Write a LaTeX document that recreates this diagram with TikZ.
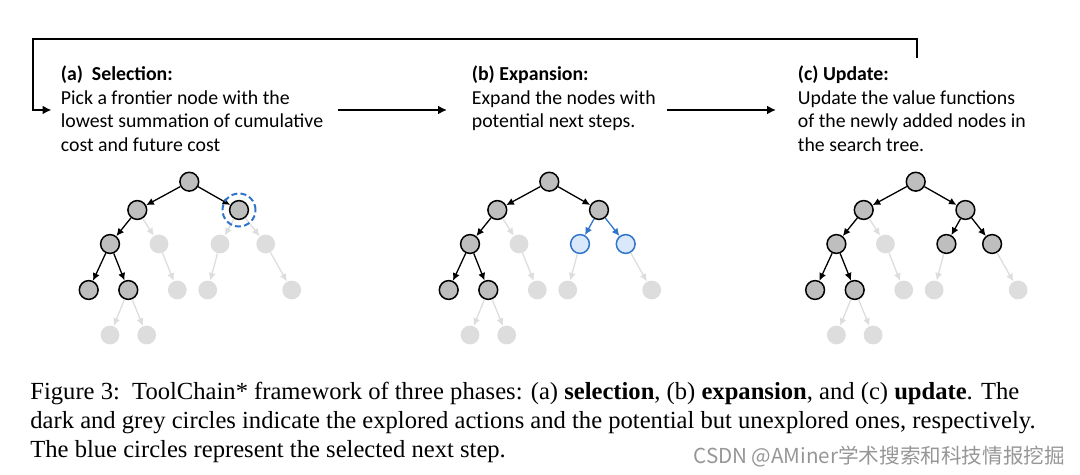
\documentclass[tikz,border=0pt]{standalone}
\usepackage{fontspec}
\setmainfont{Liberation Serif}
\newfontfamily\calib{Carlito}
\newfontfamily\cjk{Noto Sans CJK SC}
\usetikzlibrary{arrows.meta}
\definecolor{exgray}{RGB}{190,190,190}
\definecolor{ungray}{RGB}{221,221,221}
\definecolor{selblue}{RGB}{47,117,204}
\definecolor{lightblue}{RGB}{218,232,252}
\definecolor{markgray}{RGB}{150,150,150}

\begin{document}
\begin{tikzpicture}[x=0.5pt, y=-0.5pt,
		explored/.style={circle, draw=black, fill=exgray, line width=0.75pt, minimum size=9.4pt, inner sep=0pt},
		unexplored/.style={circle, fill=ungray, minimum size=9.4pt, inner sep=0pt},
		chosen/.style={circle, draw=selblue, fill=lightblue, line width=0.75pt, minimum size=9.4pt, inner sep=0pt},
		exploredge/.style={-{Latex[length=3.8pt,width=3.6pt]}, black, line width=0.65pt},
		unexploredge/.style={-{Latex[length=3.8pt,width=3.6pt]}, ungray, line width=0.65pt},
		chosenedge/.style={-{Latex[length=3.8pt,width=3.6pt]}, selblue, line width=0.65pt},
		flow/.style={-{Latex[length=4.5pt,width=4.5pt]}, black, line width=1pt},
		phase/.style={anchor=north west, align=left, inner sep=0pt, font=\calib\fontsize{9.9}{11.8}\selectfont}]
	\useasboundingbox (0,0) rectangle (1080,475);

	\node[phase] (a-text) at (60.5,65.5) {\textbf{(a)\ \ Selection:}\\Pick a frontier node with the\\lowest summation of cumulative\\cost and future cost};
	\node[phase] (b-text) at (471.5,65.5) {\textbf{(b) Expansion:}\\Expand the nodes with\\potential next steps.};
	\node[phase] (c-text) at (797.5,65.5) {\textbf{(c) Update:}\\Update the value functions\\of the newly added nodes in\\the search tree.};

	\coordinate (fbstart) at (916.7,58);
	\coordinate (fbtop) at (33,39);
	\coordinate (fbend) at (51.5,110);
	\coordinate (ab-from) at (338,110);
	\coordinate (ab-to) at (447,110);
	\coordinate (bc-from) at (667,110);
	\coordinate (bc-to) at (776,110);
	\draw[flow] (fbstart) |- (fbtop) |- (fbend);
	\draw[flow] (ab-from) -- (ab-to);
	\draw[flow] (bc-from) -- (bc-to);

	\foreach \p/\dx in {a/0, b/360, c/726.4} {
		\begin{scope}[shift={(\dx,0)}]
			\node[explored] (\p-root) at (189.3,181.7) {};
			\node[explored] (\p-l) at (137.3,210) {};
			\node[explored] (\p-r) at (239,210) {};
			\node[explored] (\p-ll) at (110,244) {};
			\node[unexplored] (\p-lr) at (159,244) {};
			\node[explored] (\p-lll) at (88.7,290) {};
			\node[explored] (\p-llr) at (128.3,290) {};
			\node[unexplored] (\p-lrr) at (177.3,290) {};
			\node[unexplored] (\p-rll) at (207.7,290) {};
			\node[unexplored] (\p-rrr) at (291.7,290) {};
			\node[unexplored] (\p-llrl) at (110,335) {};
			\node[unexplored] (\p-llrr) at (146.7,335) {};
		\end{scope}
	}
	\node[unexplored] (a-rl) at (220,244) {};
	\node[unexplored] (a-rr) at (265.7,244) {};
	\node[chosen] (b-rl) at (580,244) {};
	\node[chosen] (b-rr) at (625.7,244) {};
	\node[explored] (c-rl) at (946.4,244) {};
	\node[explored] (c-rr) at (992.1,244) {};

	\foreach \p/\re in {a/unexploredge, b/chosenedge, c/exploredge} {
		\draw[exploredge] (\p-root) -- (\p-l);
		\draw[exploredge] (\p-root) -- (\p-r);
		\draw[exploredge] (\p-l) -- (\p-ll);
		\draw[unexploredge] (\p-l) -- (\p-lr);
		\draw[exploredge] (\p-ll) -- (\p-lll);
		\draw[exploredge] (\p-ll) -- (\p-llr);
		\draw[\re] (\p-r) -- (\p-rl);
		\draw[\re] (\p-r) -- (\p-rr);
		\draw[unexploredge] (\p-lr) -- (\p-lrr);
		\draw[unexploredge] (\p-rl) -- (\p-rll);
		\draw[unexploredge] (\p-rr) -- (\p-rrr);
		\draw[unexploredge] (\p-llr) -- (\p-llrl);
		\draw[unexploredge] (\p-llr) -- (\p-llrr);
	}
	\node[circle, draw=selblue, dashed, dash pattern=on 3pt off 1.6pt, line width=1pt, minimum size=16.5pt, inner sep=0pt] (ring) at (a-r) {};

	\node[anchor=north west, align=left, inner sep=0pt, font=\fontsize{12.3}{14.4}\selectfont] (caption) at (30,382) {Figure 3:\ \ ToolChain* framework of three phases: (a) \textbf{selection}, (b) \textbf{expansion}, and (c) \textbf{update}. The\\dark and grey circles indicate the explored actions and the potential but unexplored ones, respectively.\\The blue circles represent the selected next step.};
	\node[anchor=west, inner sep=0pt, text=markgray, font=\cjk\fontsize{10.3}{11}\selectfont] (mark) at (693,457) {CSDN @AMiner学术搜索和科技情报挖掘};
\end{tikzpicture}
\end{document}
